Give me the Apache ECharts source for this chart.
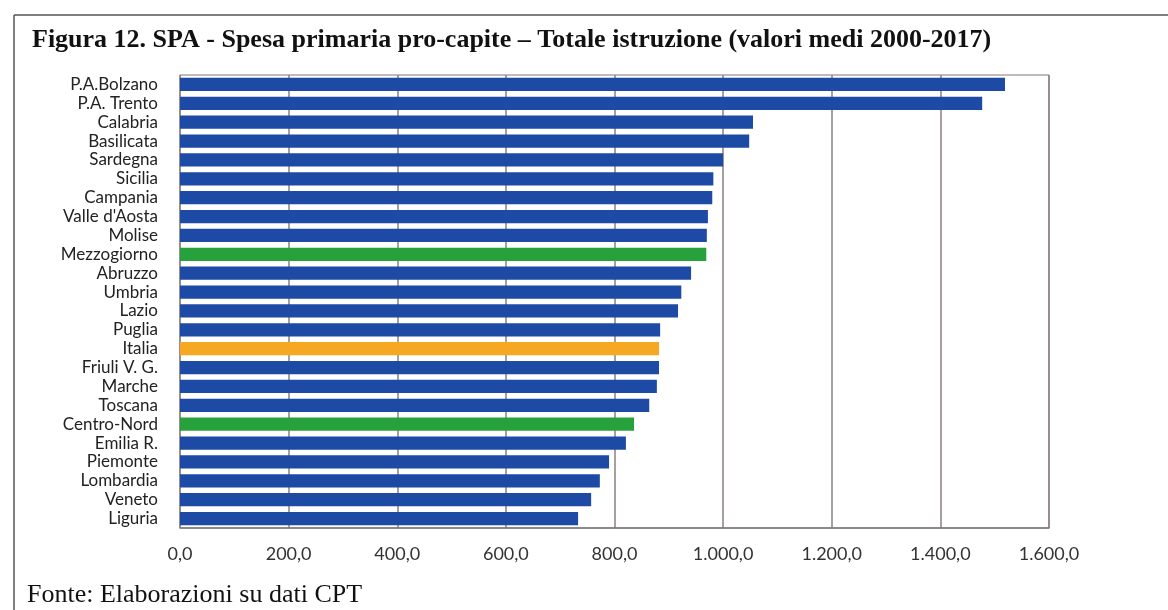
<!DOCTYPE html>
<html>
<head>
<meta charset="utf-8">
<script src="https://cdn.jsdelivr.net/npm/echarts@6/dist/echarts.min.js"></script>
<style>
html, body { margin: 0; padding: 0; background: #fff; }
#main { width: 1168px; height: 610px; }
</style>
</head>
<body>
<div id="main"></div>
<script>
var regioni = ['P.A.Bolzano', 'P.A. Trento', 'Calabria', 'Basilicata', 'Sardegna', 'Sicilia',
    'Campania', "Valle d'Aosta", 'Molise', 'Mezzogiorno', 'Abruzzo', 'Umbria', 'Lazio',
    'Puglia', 'Italia', 'Friuli V. G.', 'Marche', 'Toscana', 'Centro-Nord', 'Emilia R.',
    'Piemonte', 'Lombardia', 'Veneto', 'Liguria'];
var spesa = [1519, 1477, 1055, 1048, 1000, 982, 980, 972, 970, 969, 941, 923, 917,
    884, 882, 882, 878, 864, 836, 821, 790, 773, 757, 733];
var ticks = [0, 200, 400, 600, 800, 1000, 1200, 1400, 1600];

var colBlu = '#1d4aa5', colVerde = '#27a13b', colArancio = '#f7a823';
function coloreDi(nome) {
    if (nome === 'Mezzogiorno' || nome === 'Centro-Nord') return colVerde;
    if (nome === 'Italia') return colArancio;
    return colBlu;
}

// formato italiano: 1.000,0
function fmt(v) {
    var s = v.toFixed(1).split('.');
    s[0] = s[0].replace(/\B(?=(\d{3})+(?!\d))/g, '.');
    return s.join(',');
}

var dom = document.getElementById('main');
var myChart = echarts.init(dom);
var option = {
    animation: false,
    backgroundColor: '#fff',
    title: {
        text: 'Figura 12. SPA - Spesa primaria pro-capite \u2013 Totale istruzione (valori medi 2000-2017)',
        left: 27, top: 22,
        textStyle: { fontFamily: 'Liberation Serif', fontSize: 26, fontWeight: 'bold', color: '#111' }
    },
    grid: { left: 180, right: 119, top: 75, bottom: 82, show: true, borderColor: '#7f7878', borderWidth: 1 },
    xAxis: {
        type: 'value', min: ticks[0], max: ticks[ticks.length - 1], interval: 200,
        axisLine: { show: true, lineStyle: { color: '#7f7878', width: 1.5 } },
        axisTick: { show: false },
        splitLine: { show: true, lineStyle: { color: '#8a8080', width: 1.5 } },
        axisLabel: {
            formatter: function (v) { return fmt(v); }, margin: 17,
            fontFamily: 'Lato', fontSize: 18, color: '#333'
        }
    },
    yAxis: {
        type: 'category', data: regioni, inverse: true,
        axisLine: { show: false }, axisTick: { show: false },
        axisLabel: { interval: 0, fontFamily: 'Lato', fontSize: 17, color: '#222', margin: 22, lineHeight: 17 }
    },
    series: [{
        type: 'bar',
        barCategoryGap: '30%',
        data: spesa.map(function (v, i) {
            return { value: v, itemStyle: { color: coloreDi(regioni[i]) } };
        })
    }],
    graphic: [
        { type: 'line', shape: { x1: 14, y1: 15, x2: 1168, y2: 15 }, style: { stroke: '#555', lineWidth: 1.5 } },
        { type: 'line', shape: { x1: 14, y1: 15, x2: 14, y2: 610 }, style: { stroke: '#555', lineWidth: 1.5 } },
        {
            type: 'text', left: 27, top: 582,
            style: { text: 'Fonte: Elaborazioni su dati CPT', font: '26px "Liberation Serif"', fill: '#111' }
        }
    ]
};
myChart.setOption(option, true);
</script>
</body>
</html>
